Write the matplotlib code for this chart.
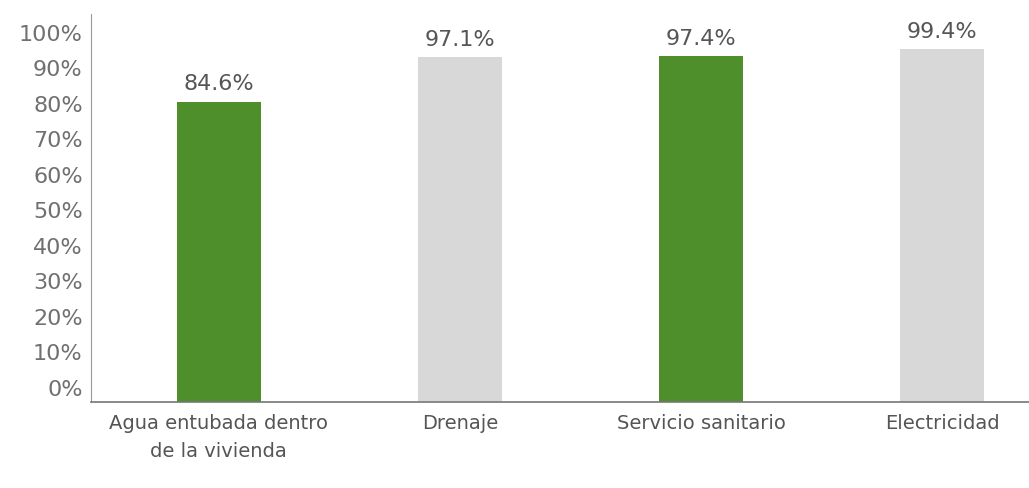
import matplotlib
matplotlib.use("Agg")
import matplotlib.pyplot as plt
import matplotlib.transforms as mtransforms
from matplotlib.ticker import FuncFormatter

# servicios en la vivienda (%)
categorias = ["Agua entubada dentro\nde la vivienda", "Drenaje", "Servicio sanitario", "Electricidad"]
valores = [84.6, 97.1, 97.4, 99.4]
etiquetas = ["84.6%", "97.1%", "97.4%", "99.4%"]
colores = ["#4e8f2c", "#d8d8d8", "#4e8f2c", "#d8d8d8"]
ticks_y = list(range(0, 101, 10))

plt.rcParams['font.family'] = ['DejaVu Sans']

fig = plt.figure(figsize=(10.29, 4.89), dpi=100)
ax = fig.add_axes([0.0884, 0.176, 0.9116, 0.793])

x = range(len(categorias))
bars = ax.bar(x, valores, width=0.35, color=colores, zorder=2)

for b, txt in zip(bars, etiquetas):
    ax.annotate(txt, (b.get_x() + b.get_width() / 2, b.get_height()),
                xytext=(0, 6), textcoords="offset points",
                ha="center", va="bottom", fontsize=16, color="#555555")

ax.set_xlim(-0.53, 3.36)
ax.set_ylim(0, 109.3)
ax.set_yticks(ticks_y)
ax.yaxis.set_major_formatter(FuncFormatter(lambda v, p: f"{int(v)}%"))
ax.set_xticks(list(x))
ax.set_xticklabels(categorias, linespacing=1.6)

ax.tick_params(axis="y", length=0, labelsize=16, labelcolor="#707070", pad=6)
ax.tick_params(axis="x", length=0, labelsize=14, labelcolor="#555555", pad=8)

# etiquetas del eje y un poco más arriba
off = mtransforms.ScaledTranslation(0, 11 / 72, fig.dpi_scale_trans)
for lbl in ax.get_yticklabels():
    lbl.set_transform(lbl.get_transform() + off)

for s in ["top", "right"]:
    ax.spines[s].set_visible(False)
ax.spines["left"].set_color("#999999")
ax.spines["bottom"].set_color("#777777")
ax.spines["bottom"].set_linewidth(1.2)

fig.savefig("out.png", dpi=100)
